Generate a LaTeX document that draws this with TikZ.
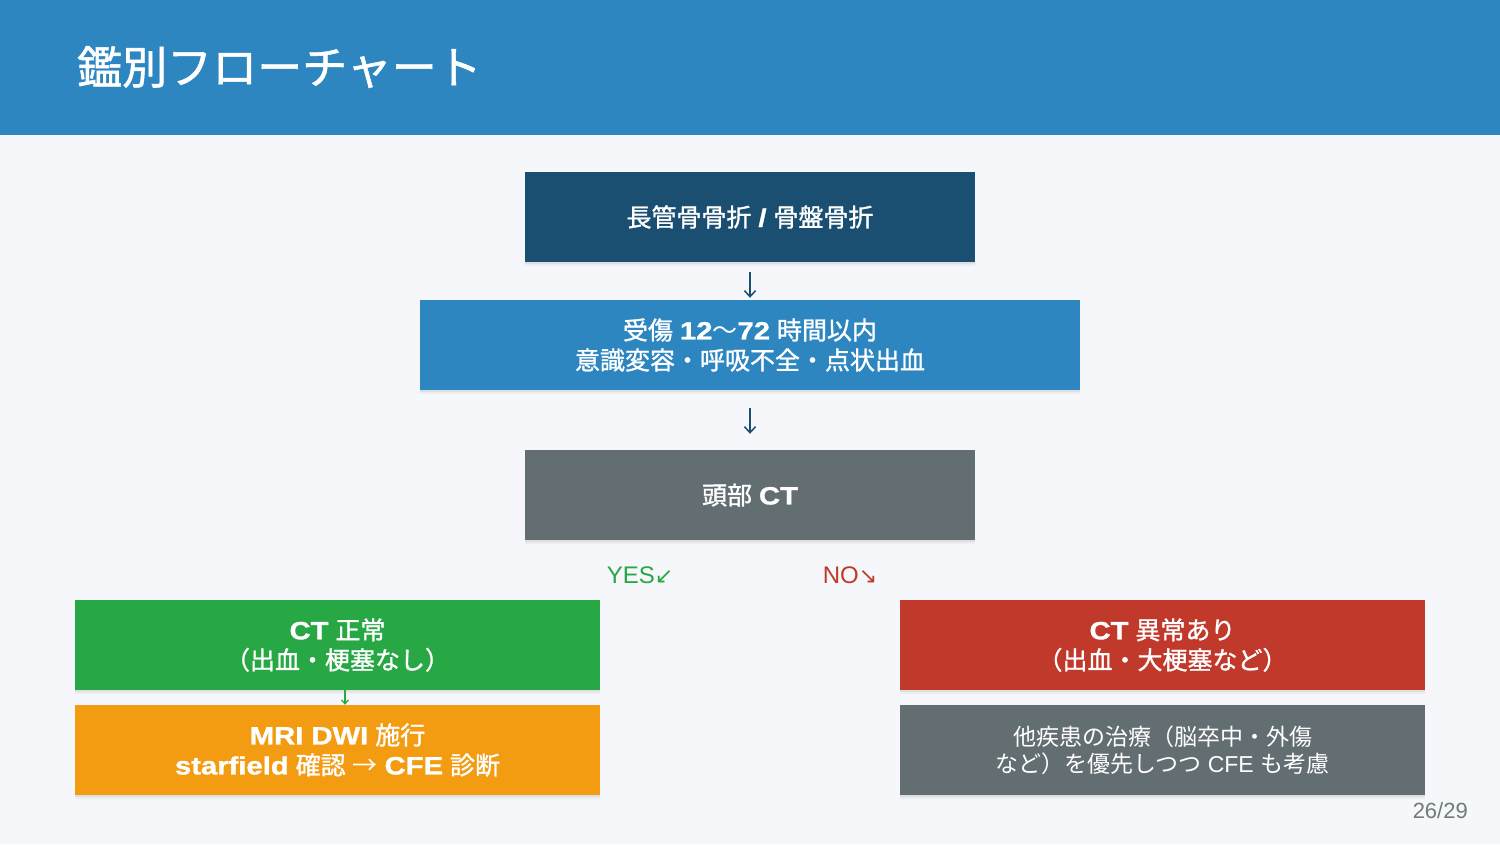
\documentclass[tikz,border=0pt]{standalone}
\usepackage{fontspec}
\setmainfont{Liberation Sans}
\newfontfamily\jp{Noto Sans CJK JP}
\newfontfamily\jpb{Noto Sans CJK JP}[FakeBold=1.2]
\newfontfamily\heavy{Liberation Sans Bold}[FakeStretch=1.17, FakeBold=1.2]
\newfontfamily\arr{DejaVu Sans}
\usetikzlibrary{arrows.meta, shadows}

\definecolor{bg}{HTML}{F5F7FA}
\definecolor{headblue}{HTML}{2E86C1}
\definecolor{darkblue}{HTML}{1B4F72}
\definecolor{slate}{HTML}{636E72}
\definecolor{okgreen}{HTML}{28A745}
\definecolor{warnorange}{HTML}{F39C12}
\definecolor{alertred}{HTML}{C0392B}
\definecolor{pagegray}{HTML}{707B7C}

\newcommand{\hv}[1]{{\heavy #1}}

\begin{document}
\begin{tikzpicture}[x=1pt, y=-1pt,
  box/.style={rectangle, minimum width=#1, minimum height=90pt, inner sep=0pt,
    text=white, align=center, font=\fontsize{25}{30}\selectfont,
    drop shadow={shadow xshift=0pt, shadow yshift=-4pt, opacity=0.04, fill=black},
    drop shadow={shadow xshift=0pt, shadow yshift=-2pt, opacity=0.06, fill=black}},
  box/.default=450pt,
  flow/.style={line width=1.5pt, -{Straight Barb[length=6pt, width=11pt]}}]

  \fill[bg] (0,0) rectangle (1500,844);
  \fill[headblue] (0,0) rectangle (1500,135);
  \useasboundingbox (0,0) rectangle (1500,844);

  \node[anchor=west, inner sep=0pt, text=white, font=\jpb\fontsize{45}{54}\selectfont] (title) at (77,67) {鑑別フローチャート};

  \node[box, fill=darkblue] (fracture) at (750,217)
    {{\jpb 長管骨骨折} \hv{/} {\jpb 骨盤骨折}};
  \node[box=660pt, fill=headblue] (window) at (750,345)
    {{\jpb 受傷} \hv{12}{\jp ～}\hv{72} {\jpb 時間以内}\\{\jpb 意識変容・呼吸不全・点状出血}};
  \node[box, fill=slate] (head_CT) at (750,495)
    {{\jpb 頭部} \hv{CT}};

  \draw[flow, darkblue, shorten <=10pt, shorten >=2pt] (fracture.south) -- (window.north);
  \draw[flow, darkblue, shorten <=18pt, shorten >=16pt] (window.south) -- (head_CT.north);

  \node[text=okgreen, font=\fontsize{24}{30}\selectfont] (yes) at (640,575)
    {YES{\arr\fontsize{22}{24}\selectfont ↙}};
  \node[text=alertred, font=\fontsize{24}{30}\selectfont] (no) at (850,575)
    {NO{\arr\fontsize{22}{24}\selectfont ↘}};

  \node[box=525pt, fill=okgreen] (CT_normal) at (337.5,645)
    {\hv{CT} {\jpb 正常}\\{\jpb （出血・梗塞なし）}};
  \node[box=525pt, fill=warnorange] (MRI) at (337.5,750)
    {\hv{MRI DWI} {\jpb 施行}\\\hv{starfield} {\jpb 確認} {\jp →} \hv{CFE} {\jpb 診断}};

  \draw[okgreen, line width=1.2pt, -{Straight Barb[length=4pt, width=7pt]}, shorten <=-2pt]
    ([xshift=7.5pt]CT_normal.south) -- ([xshift=7.5pt]MRI.north);

  \node[box=525pt, fill=alertred] (CT_abn) at (1162.5,645)
    {\hv{CT} {\jpb 異常あり}\\{\jpb （出血・大梗塞など）}};
  \node[box=525pt, fill=slate, font=\fontsize{23}{27}\selectfont] (other) at (1162.5,750)
    {{\jp 他疾患の治療（脳卒中・外傷}\\{\jp など）を優先しつつ} CFE {\jp も考慮}};

  \node[anchor=east, inner sep=0pt, text=pagegray, font=\fontsize{22}{26}\selectfont] (page) at (1468,811) {26/29};

\end{tikzpicture}
\end{document}
